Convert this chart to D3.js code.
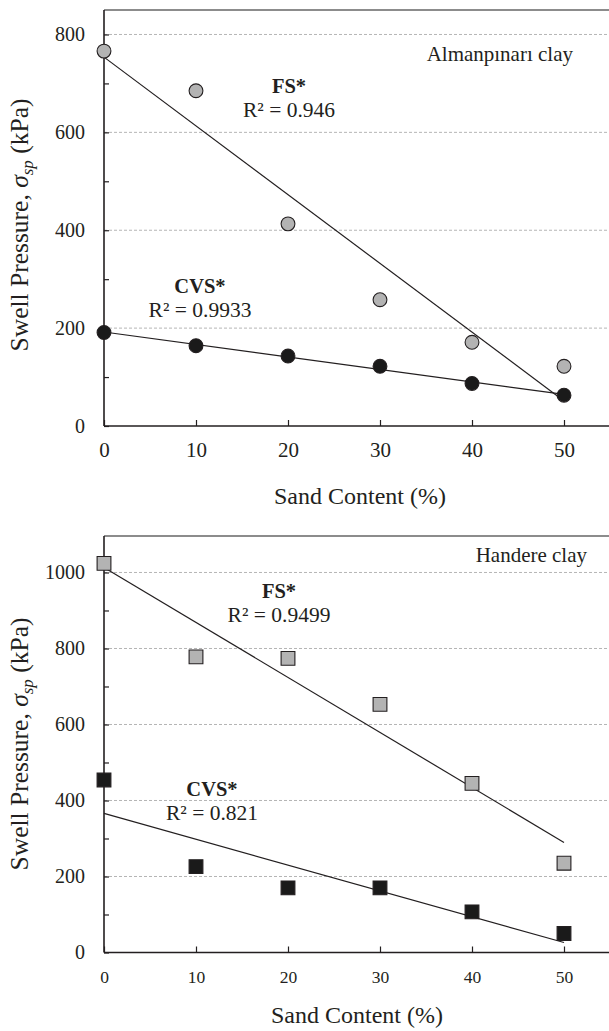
<!DOCTYPE html>
<html>
<head>
<meta charset="utf-8">
<script src="https://cdn.jsdelivr.net/npm/d3@7"></script>
<style>
  html, body { margin: 0; padding: 0; background: #fff; }
  svg { display: block; }
  text { font-family: "Liberation Serif", "Times New Roman", serif; fill: #231f20; }
</style>
</head>
<body>
<svg id="chart" width="609" height="1031"></svg>
<script>
// Sand content (%) shared by both clays
const sandContent = [0, 10, 20, 30, 40, 50];
const xTicks = [0, 10, 20, 30, 40, 50];

// Almanpınarı clay swell pressures (kPa)
const almanFS = [766, 685, 413, 258, 171, 122];
const almanCVS = [191, 164, 143, 122, 87, 63];
const almanYTicks = [0, 200, 400, 600, 800];
const almanYMinor = [100, 300, 500, 700];
const almanR2 = { FS: "0.946", CVS: "0.9933" };

// Handere clay swell pressures (kPa)
const handereFS = [1024, 778, 774, 653, 445, 235];
const handereCVS = [454, 226, 170, 170, 107, 50];
const handereYTicks = [0, 200, 400, 600, 800, 1000];
const handereYMinor = [100, 300, 500, 700, 900];
const handereR2 = { FS: "0.9499", CVS: "0.821" };

const SERIF = "'Liberation Serif', 'Times New Roman', serif";
const svg = d3.select("#chart");

// least-squares straight line through (x, y)
function fitLine(xs, ys) {
  const mx = d3.mean(xs), my = d3.mean(ys);
  let sxy = 0, sxx = 0;
  xs.forEach((xv, i) => {
    sxy += (xv - mx) * (ys[i] - my);
    sxx += (xv - mx) * (xv - mx);
  });
  const b = sxy / sxx;
  const a = my - b * mx;
  return x => a + b * x;
}

function drawPanel(cfg) {
  const g = svg.append("g");
  const x = d3.scaleLinear().domain([0, 55]).range([104, 610]);
  const y = d3.scaleLinear().domain([0, cfg.yMax]).range([cfg.bottom, cfg.top]);

  // dashed gridlines at major values
  g.append("g").selectAll("line")
    .data(cfg.yTicks.filter(v => v > 0))
    .join("line")
    .attr("x1", x(0)).attr("x2", 609)
    .attr("y1", d => y(d)).attr("y2", d => y(d))
    .attr("stroke", "#b5b5b5").attr("stroke-width", 1)
    .attr("stroke-dasharray", "3,2");

  // top frame line
  g.append("line")
    .attr("x1", x(0)).attr("x2", 609)
    .attr("y1", cfg.top).attr("y2", cfg.top)
    .attr("stroke", "#666").attr("stroke-width", 1.6);

  // y axis with inward ticks
  const yAxis = d3.axisLeft(y)
    .tickValues(cfg.yTicks.concat(cfg.yMinor))
    .tickSizeInner(-5).tickSizeOuter(0)
    .tickPadding(19)
    .tickFormat(d => cfg.yTicks.includes(d) ? d3.format("d")(d) : "");
  const ya = g.append("g").attr("transform", `translate(${x(0)},0)`).call(yAxis);
  ya.attr("font-family", SERIF);
  ya.select(".domain").attr("stroke", "#231f20").attr("stroke-width", 1.6)
    .attr("d", `M0,${cfg.top}V${cfg.bottom}`);
  ya.selectAll(".tick line").attr("stroke", "#231f20").attr("stroke-width", 1.2);
  ya.selectAll(".tick text")
    .attr("font-family", SERIF).style("font-size", "20px").attr("fill", "#231f20");

  // x axis with inward ticks
  const xAxis = d3.axisBottom(x)
    .tickValues(xTicks)
    .tickSizeInner(-6).tickSizeOuter(0)
    .tickPadding(cfg.xPad)
    .tickFormat(d3.format("d"));
  const xa = g.append("g").attr("transform", `translate(0,${cfg.bottom})`).call(xAxis);
  xa.attr("font-family", SERIF);
  xa.select(".domain").attr("stroke", "#231f20").attr("stroke-width", 1.6)
    .attr("d", `M${x(0)},0H609`);
  xa.selectAll(".tick line").attr("stroke", "#231f20").attr("stroke-width", 1.2);
  xa.selectAll(".tick text")
    .attr("font-family", SERIF).style("font-size", cfg.xFont + "px").attr("fill", "#231f20");

  // axis titles
  g.append("text")
    .attr("x", cfg.xTitleX).attr("y", cfg.xTitleY)
    .attr("text-anchor", "middle")
    .attr("font-family", SERIF).style("font-size", "24px")
    .text("Sand Content (%)");

  const yt = g.append("text")
    .attr("transform", `translate(28,${cfg.yTitleY}) rotate(-90)`)
    .attr("text-anchor", "middle")
    .attr("font-family", SERIF).style("font-size", "25.5px");
  yt.append("tspan").text("Swell Pressure, ");
  yt.append("tspan").style("font-style", "italic").text("σ");
  yt.append("tspan").style("font-style", "italic").style("font-size", "17px")
    .attr("dy", 5).text("sp");
  yt.append("tspan").attr("dy", -5).text(" (kPa)");

  // regression lines
  const series = [
    { vals: cfg.fs, fill: "#b3b3b3" },
    { vals: cfg.cvs, fill: "#1a1a1a" }
  ];
  series.forEach(s => {
    const f = fitLine(sandContent, s.vals);
    g.append("line")
      .attr("x1", x(0)).attr("y1", y(f(0)))
      .attr("x2", x(50)).attr("y2", y(f(50)))
      .attr("stroke", "#231f20").attr("stroke-width", 1.2);
  });

  // markers
  series.forEach(s => {
    g.append("g").selectAll("path")
      .data(sandContent.map((v, i) => [v, s.vals[i]]))
      .join("path")
      .attr("transform", d => `translate(${x(d[0])},${y(d[1])})`)
      .attr("d", cfg.shape === "circle"
        ? d3.symbol(d3.symbolCircle, 150)()
        : d3.symbol(d3.symbolSquare, 190)())
      .attr("fill", s.fill)
      .attr("stroke", "#231f20").attr("stroke-width", 1.1);
  });

  // annotations
  g.append("text").attr("x", cfg.nameX).attr("y", cfg.nameY)
    .attr("text-anchor", "end")
    .attr("font-family", SERIF).style("font-size", "21px").text(cfg.name);

  const lbl = (cx, by, name, r2) => {
    g.append("text").attr("x", cx).attr("y", by)
      .attr("text-anchor", "middle")
      .attr("font-family", SERIF).style("font-size", "20.5px")
      .style("font-weight", "bold").text(name);
    g.append("text").attr("x", cx).attr("y", by + 24)
      .attr("text-anchor", "middle")
      .attr("font-family", SERIF).style("font-size", "21.5px")
      .text("R² = " + r2);
  };
  lbl(cfg.fsLbl[0], cfg.fsLbl[1], "FS*", cfg.r2.FS);
  lbl(cfg.cvsLbl[0], cfg.cvsLbl[1], "CVS*", cfg.r2.CVS);
}

drawPanel({
  top: 10, bottom: 426, yMax: 850,
  yTicks: almanYTicks, yMinor: almanYMinor,
  fs: almanFS, cvs: almanCVS, r2: almanR2,
  shape: "circle", name: "Almanpınarı clay", nameX: 573, nameY: 61,
  fsLbl: [289, 93], cvsLbl: [200, 293],
  xPad: 16, xFont: 21, xTitleX: 360, xTitleY: 504, yTitleY: 225
});

drawPanel({
  top: 536, bottom: 952.5, yMax: 1096,
  yTicks: handereYTicks, yMinor: handereYMinor,
  fs: handereFS, cvs: handereCVS, r2: handereR2,
  shape: "square", name: "Handere clay", nameX: 587, nameY: 562,
  fsLbl: [279, 598], cvsLbl: [212, 796],
  xPad: 18, xFont: 17.5, xTitleX: 357, xTitleY: 1023, yTitleY: 744
});
</script>
</body>
</html>
